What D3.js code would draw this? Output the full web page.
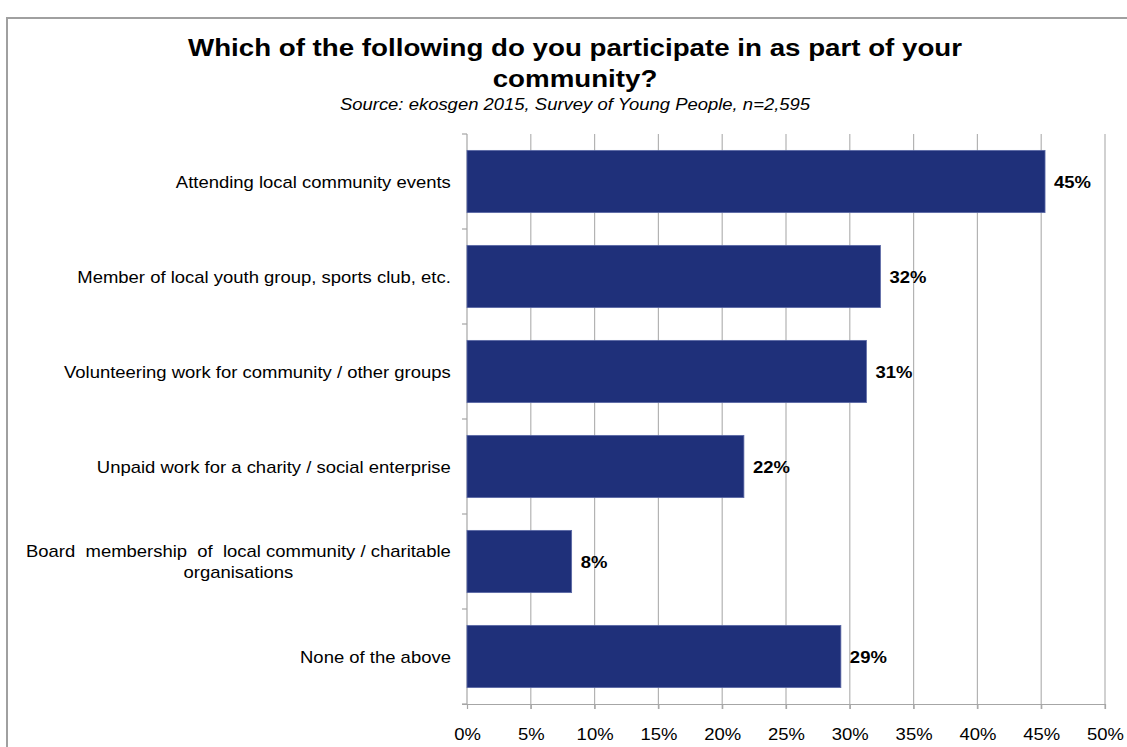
<!DOCTYPE html>
<html>
<head>
<meta charset="utf-8">
<script src="https://cdn.jsdelivr.net/npm/d3@7"></script>
<style>
  html, body { margin: 0; padding: 0; background: #fff; }
  svg { display: block; font-family: "Liberation Sans", Arial, sans-serif; }
  text { white-space: pre; }
</style>
</head>
<body>
<svg id="chart" width="1127" height="747"></svg>
<script>
// Survey responses: share of young people taking part in each activity
const categories = [
  ["Attending local community events"],
  ["Member of local youth group, sports club, etc."],
  ["Volunteering work for community / other groups"],
  ["Unpaid work for a charity / social enterprise"],
  ["Board  membership  of  local community / charitable", "organisations"],
  ["None of the above"]
];
const values = [45.3, 32.4, 31.3, 21.7, 8.2, 29.3];
const tickValues = [0, 5, 10, 15, 20, 25, 30, 35, 40, 45, 50];

const titleLines = ["Which of the following do you participate in as part of your", "community?"];
const subtitle = "Source: ekosgen 2015, Survey of Young People, n=2,595";

const svg = d3.select("#chart");
const W = 1127, H = 747;
const SX = 1.155; // horizontal stretch applied to all text

// place a text element at (x, y) with the horizontal stretch
const place = (x, y) => `translate(${x},${y}) scale(${SX},1)`;

// outer frame (open on the right and bottom)
svg.append("path")
  .attr("d", `M7,${H} V18 H${W}`)
  .attr("fill", "none")
  .attr("stroke", "#a0a0a0")
  .attr("stroke-width", 2);

// titles
svg.append("g")
  .selectAll("text").data(titleLines).join("text")
  .attr("transform", (d, i) => place(575, 56 + i * 31))
  .attr("text-anchor", "middle")
  .attr("font-size", 24).attr("font-weight", "bold").attr("fill", "#000")
  .text(d => d);

svg.append("text")
  .attr("transform", place(575, 110))
  .attr("text-anchor", "middle")
  .attr("font-size", 16).attr("font-style", "italic").attr("fill", "#000")
  .text(subtitle);

const plot = { left: 467, right: 1105, top: 134, bottom: 704 };

const x = d3.scaleLinear().domain([0, 50]).range([plot.left, plot.right]);
const y = d3.scaleBand()
  .domain(d3.range(categories.length))
  .range([plot.top, plot.bottom])
  .paddingInner(0.345)
  .paddingOuter(0.1725);

// vertical gridlines
svg.append("g")
  .selectAll("line").data(tickValues.slice(1)).join("line")
  .attr("x1", d => x(d)).attr("x2", d => x(d))
  .attr("y1", plot.top).attr("y2", plot.bottom + 5)
  .attr("stroke", "#b3b3b3").attr("stroke-width", 1.2);

// bottom axis
const xAxis = d3.axisBottom(x)
  .tickValues(tickValues)
  .tickFormat(d => d + "%")
  .tickSize(5)
  .tickPadding(20);
const gx = svg.append("g")
  .attr("transform", `translate(0,${plot.bottom})`)
  .call(xAxis);
gx.select(".domain").attr("d", `M${plot.left - 5},0.5H${plot.right}`).attr("stroke", "#a6a6a6").attr("stroke-width", 1.2);
gx.selectAll(".tick line").attr("stroke", "#a6a6a6").attr("stroke-width", 1.2);
gx.selectAll(".tick text")
  .attr("font-size", 16).attr("fill", "#000")
  .attr("font-family", "Liberation Sans, Arial, sans-serif")
  .attr("transform", `scale(${SX},1)`);

// left axis line with ticks between categories
const step = y.step();
const bounds = d3.range(categories.length + 1).map(i => plot.top + i * step);
const gy = svg.append("g");
gy.append("line")
  .attr("x1", plot.left).attr("x2", plot.left)
  .attr("y1", plot.top).attr("y2", plot.bottom)
  .attr("stroke", "#a6a6a6").attr("stroke-width", 1.2);
gy.selectAll("line.tk").data(bounds).join("line")
  .attr("class", "tk")
  .attr("x1", plot.left - 5).attr("x2", plot.left)
  .attr("y1", d => d).attr("y2", d => d)
  .attr("stroke", "#a6a6a6").attr("stroke-width", 1.2);

// bars
svg.append("g")
  .selectAll("rect").data(values).join("rect")
  .attr("x", x(0))
  .attr("y", (d, i) => y(i))
  .attr("width", d => x(d) - x(0))
  .attr("height", y.bandwidth())
  .attr("fill", "#1f307a")
  .attr("stroke", "#5a68a6")
  .attr("stroke-width", 0.8);

// value labels
svg.append("g")
  .selectAll("text").data(values).join("text")
  .attr("transform", (d, i) => place(x(d) + 9, y(i) + y.bandwidth() / 2 + 6))
  .attr("font-size", 16).attr("font-weight", "bold").attr("fill", "#000")
  .text(d => Math.round(d) + "%");

// category labels: lines centred on each other, block right-aligned to the axis
const labels = svg.append("g")
  .selectAll("text").data(categories).join("text")
  .attr("font-size", 16).attr("fill", "#000")
  .attr("text-anchor", "middle");
labels.each(function(lines, i) {
  const cy = y(i) + y.bandwidth() / 2;
  const lh = 21;
  const el = d3.select(this);
  lines.forEach((ln, j) => {
    el.append("tspan")
      .attr("x", 0)
      .attr("y", 6 + (j - (lines.length - 1) / 2) * lh)
      .text(ln);
  });
  const maxW = d3.max(el.selectAll("tspan").nodes(), n => n.getComputedTextLength()) * SX;
  el.attr("transform", place(451 - maxW / 2, cy));
});
</script>
</body>
</html>
